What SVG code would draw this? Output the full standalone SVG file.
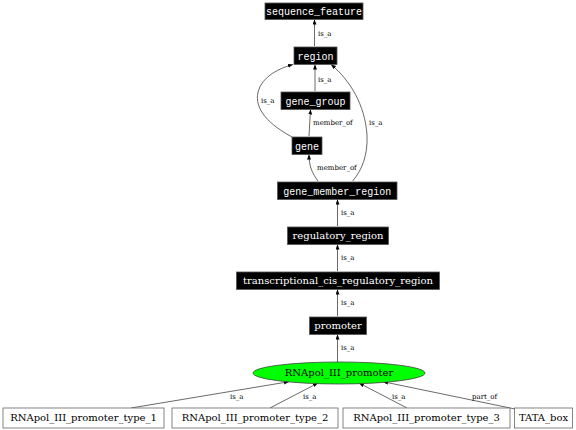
<svg xmlns="http://www.w3.org/2000/svg" width="576" height="430" viewBox="0 0 576 430">
<style>
.bk rect{fill:#000;stroke:#555;stroke-width:0.8}
.bk text{fill:#fff;font-family:"Liberation Mono",monospace;font-size:10px;text-anchor:middle}
.bk text.sf{font-family:"DejaVu Serif",serif;font-size:10px}
.wt rect{fill:#fff;stroke:#666;stroke-width:0.8}
.wt text,.el text{fill:#000;font-family:"DejaVu Serif",serif;font-size:10px;text-anchor:middle}
.el ellipse{fill:#00ff00;stroke:#444;stroke-width:0.8}
.edges path{fill:none;stroke:#444;stroke-width:0.8;marker-end:url(#ah)}
.edges text{font-family:"DejaVu Serif",serif;font-size:7px;fill:#000}
</style>
<defs>
<marker id="ah" markerUnits="userSpaceOnUse" markerWidth="6" markerHeight="5" refX="5" refY="2" orient="auto">
<path d="M0,0 L5,2 L0,4 z" fill="#000"/>
</marker>
</defs>
<rect width="576" height="430" fill="#fff"/>
<g class="edges">
<path d="M314.5,46 L314.5,19.5"/>
<text x="318" y="36">is_a</text>
<path d="M315,91 L315,64.5"/>
<text x="318" y="82">is_a</text>
<path d="M309,136 L310.5,109.5"/>
<text x="313" y="125">member_of</text>
<path d="M292,137 C270,125 254,110 258,92 C262,76 280,68 293,64.5"/>
<text x="261" y="103">is_a</text>
<path d="M318,181 C312,173 309,166 309,154.5"/>
<text x="317" y="170">member_of</text>
<path d="M352.7,181 C362,170 368,155 367,135 C365,105 350,80 331,64.5"/>
<text x="369" y="125">is_a</text>
<path d="M337.5,226 L337.5,199.5"/>
<text x="341" y="215">is_a</text>
<path d="M337.5,271 L337.5,244.5"/>
<text x="341" y="260">is_a</text>
<path d="M337.5,316 L337.5,289.5"/>
<text x="341" y="305">is_a</text>
<path d="M337.5,362 L337.5,334.5"/>
<text x="341" y="350">is_a</text>
<path d="M131,408 L289,381.7"/>
<text x="230" y="399">is_a</text>
<path d="M270,408 L318,383"/>
<text x="303" y="399">is_a</text>
<path d="M407,408 L359,383"/>
<text x="392" y="399">is_a</text>
<path d="M515,409 L383,381.7"/>
<text x="472" y="399">part_of</text>
</g>
<g id="sequence_feature" class="bk"><rect x="265" y="3" width="98" height="16.5"/><text x="314" y="15">sequence_feature</text></g>
<g id="region" class="bk"><rect x="294" y="47" width="43" height="17.5"/><text x="315.5" y="59.5">region</text></g>
<g id="gene_group" class="bk"><rect x="281" y="92" width="69" height="17.5"/><text x="315.5" y="104.5">gene_group</text></g>
<g id="gene" class="bk"><rect x="292" y="137" width="30" height="17.5"/><text x="307" y="149.5">gene</text></g>
<g id="gene_member_region" class="bk"><rect x="277.5" y="182" width="119.5" height="17.5"/><text x="337.3" y="194.5">gene_member_region</text></g>
<g id="regulatory_region" class="bk"><rect x="287.5" y="227" width="101" height="17.5"/><text class="sf" x="338" y="238.8">regulatory_region</text></g>
<g id="transcriptional_cis_regulatory_region" class="bk"><rect x="236.5" y="272" width="203" height="17.5"/><text class="sf" x="338" y="283.8">transcriptional_cis_regulatory_region</text></g>
<g id="promoter" class="bk"><rect x="309.5" y="317" width="57" height="17.5"/><text class="sf" x="338" y="328.8">promoter</text></g>
<g id="RNApol_III_promoter" class="el"><ellipse cx="339" cy="373" rx="86" ry="11"/><text x="339" y="376">RNApol_III_promoter</text></g>
<g id="RNApol_III_promoter_type_1" class="wt"><rect x="3" y="408" width="161" height="20"/><text x="83.5" y="421">RNApol_III_promoter_type_1</text></g>
<g id="RNApol_III_promoter_type_2" class="wt"><rect x="172" y="408" width="166" height="20"/><text x="255" y="421">RNApol_III_promoter_type_2</text></g>
<g id="RNApol_III_promoter_type_3" class="wt"><rect x="343" y="408" width="167" height="20"/><text x="426.5" y="421">RNApol_III_promoter_type_3</text></g>
<g id="TATA_box" class="wt"><rect x="514.5" y="408" width="58" height="20"/><text x="543.5" y="421">TATA_box</text></g>
</svg>
